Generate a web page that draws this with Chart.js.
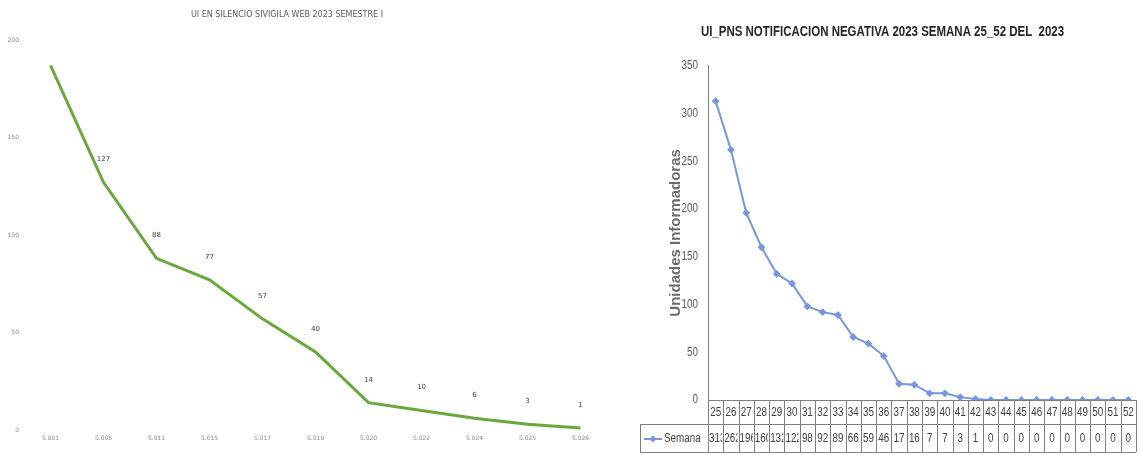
<!DOCTYPE html>
<html>
<head>
<meta charset="utf-8">
<script src="https://cdn.jsdelivr.net/npm/chart.js@4.4.1/dist/chart.umd.min.js"></script>
<style>
  body { margin: 0; background: #fff; }
  #wrapL { position: absolute; left: 0; top: 0; width: 615px; height: 457px; }
  #wrapR { position: absolute; left: 615px; top: 0; width: 527px; height: 457px; }
</style>
</head>
<body>
<div id="wrapL"><canvas id="silencio"></canvas></div>
<div id="wrapR"><canvas id="negativa"></canvas></div>
<script>
// left chart
var silencioLabels = ['S.001', 'S.005', 'S.011', 'S.015', 'S.017', 'S.019', 'S.020', 'S.022', 'S.024', 'S.025', 'S.026'];
var silencioValues = [187, 127, 88, 77, 57, 40, 14, 10, 6, 3, 1];
var silencioTitle = 'UI EN SILENCIO SIVIGILA WEB 2023 SEMESTRE I';

// right chart
var semanas = ['25', '26', '27', '28', '29', '30', '31', '32', '33', '34', '35', '36', '37', '38',
  '39', '40', '41', '42', '43', '44', '45', '46', '47', '48', '49', '50', '51', '52'];
var semanaValues = [313, 262, 196, 160, 132, 122, 98, 92, 89, 66, 59, 46, 17, 16,
  7, 7, 3, 1, 0, 0, 0, 0, 0, 0, 0, 0, 0, 0];
var negativaTitle = 'UI_PNS NOTIFICACION NEGATIVA 2023 SEMANA 25_52 DEL  2023';

var narrow = "'DejaVu Sans', sans-serif";
var sans = "'Liberation Sans', sans-serif";
var SQUEEZE = 0.82;

// no narrow font installed: squeeze text horizontally (skip anything set in Arial)
var narrowTextPlugin = {
  id: 'narrowText',
  beforeInit: function (chart) {
    var ctx = chart.ctx;
    var orig = ctx.fillText;
    ctx.fillText = function (text, x, y, maxWidth) {
      if (ctx.font.indexOf('Arial') >= 0) return orig.call(ctx, text, x, y, maxWidth);
      ctx.save();
      ctx.translate(x, y);
      ctx.scale(SQUEEZE, 1);
      orig.call(ctx, text, 0, 0, maxWidth);
      ctx.restore();
    };
  },
};

// value labels above the green line (first point has none in the original)
var silencioLabelsPlugin = {
  id: 'silencioLabels',
  afterDatasetsDraw: function (chart) {
    var ctx = chart.ctx;
    var meta = chart.getDatasetMeta(0);
    ctx.save();
    ctx.font = '7px ' + narrow;
    ctx.fillStyle = '#404040';
    ctx.textAlign = 'center';
    ctx.textBaseline = 'middle';
    meta.data.forEach(function (pt, i) {
      if (i === 0) return;
      ctx.fillText(String(silencioValues[i]), pt.x, pt.y - 23);
    });
    // title
    ctx.font = '8px ' + narrow;
    ctx.fillStyle = '#595959';
    ctx.fillText(silencioTitle, 287, 15);
    ctx.restore();
  },
};

var silencioChart = new Chart(document.getElementById('silencio'), {
  type: 'line',
  data: {
    labels: silencioLabels,
    datasets: [
      {
        data: silencioValues,
        borderColor: '#6aa83e',
        backgroundColor: '#6aa83e',
        borderWidth: 3,
        pointRadius: 0,
        tension: 0,
      },
    ],
  },
  options: {
    responsive: true,
    maintainAspectRatio: false,
    animation: false,
    layout: { padding: { top: 40, right: 8, bottom: 0, left: 0 } },
    plugins: {
      legend: { display: false },
      title: { display: false },
      tooltip: { enabled: false },
    },
    scales: {
      x: {
        offset: true,
        grid: { display: false, drawTicks: false },
        border: { display: false },
        ticks: { font: { size: 6, family: narrow }, color: '#8a8a8a', padding: 5, maxRotation: 0, autoSkip: false },
        afterFit: function (s) { s.height = 27; },
      },
      y: {
        min: 0,
        max: 200,
        grid: { display: false, drawTicks: false },
        border: { display: false },
        ticks: { stepSize: 50, font: { size: 6, family: narrow }, color: '#8a8a8a', padding: 5 },
        afterFit: function (s) { s.width = 24; },
      },
    },
  },
  plugins: [silencioLabelsPlugin],
});

// data table under the blue chart
var tablePlugin = {
  id: 'dataTable',
  afterDraw: function (chart) {
    var ctx = chart.ctx;
    var x = chart.scales.x;
    var area = chart.chartArea;
    var top = area.bottom;
    var mid = top + 24;
    var bot = top + 52;
    var legendLeft = 25;
    var w = x.getPixelForValue(1) - x.getPixelForValue(0);
    ctx.save();
    ctx.strokeStyle = '#7f7f7f';
    ctx.lineWidth = 1;
    ctx.beginPath();
    ctx.moveTo(area.left, top + 0.5); ctx.lineTo(area.right, top + 0.5);
    ctx.moveTo(legendLeft, mid + 0.5); ctx.lineTo(area.right, mid + 0.5);
    ctx.moveTo(legendLeft, bot + 0.5); ctx.lineTo(area.right, bot + 0.5);
    ctx.moveTo(legendLeft + 0.5, mid); ctx.lineTo(legendLeft + 0.5, bot);
    for (var i = 0; i <= semanas.length; i++) {
      var px = Math.round(x.getPixelForValue(0) - w / 2 + i * w) + 0.5;
      ctx.moveTo(px, top); ctx.lineTo(px, bot);
    }
    ctx.stroke();

    ctx.font = '12px ' + sans;
    ctx.fillStyle = '#404040';
    ctx.textBaseline = 'middle';
    var cy = (mid + bot) / 2 + 1;
    semanaValues.forEach(function (v, i) {
      var cx = x.getPixelForValue(i);
      var txt = String(v);
      var left = cx - w / 2 + 1;
      ctx.save();
      ctx.beginPath();
      ctx.rect(left, mid + 1, w - 2, bot - mid - 2);
      ctx.clip();
      if (ctx.measureText(txt).width * SQUEEZE > w - 2) {
        ctx.textAlign = 'left';
        ctx.fillText(txt, left, cy);
      } else {
        ctx.textAlign = 'center';
        ctx.fillText(txt, cx, cy);
      }
      ctx.restore();
    });

    // legend key
    ctx.strokeStyle = '#7896e0';
    ctx.lineWidth = 2;
    ctx.beginPath();
    ctx.moveTo(legendLeft + 4, cy); ctx.lineTo(legendLeft + 22, cy);
    ctx.stroke();
    ctx.fillStyle = '#7896e0';
    ctx.beginPath();
    ctx.moveTo(legendLeft + 13, cy - 3.5); ctx.lineTo(legendLeft + 16.5, cy);
    ctx.lineTo(legendLeft + 13, cy + 3.5); ctx.lineTo(legendLeft + 9.5, cy);
    ctx.closePath();
    ctx.fill();
    ctx.fillStyle = '#404040';
    ctx.textAlign = 'left';
    ctx.fillText('Semana', legendLeft + 24, cy);
    ctx.restore();
  },
};

var negativaChart = new Chart(document.getElementById('negativa'), {
  type: 'line',
  data: {
    labels: semanas,
    datasets: [
      {
        label: 'Semana',
        data: semanaValues,
        borderColor: '#7896e0',
        backgroundColor: '#7896e0',
        borderWidth: 2,
        pointStyle: 'rectRot',
        pointRadius: 2.5,
        tension: 0,
      },
    ],
  },
  options: {
    responsive: true,
    maintainAspectRatio: false,
    animation: false,
    layout: { padding: { top: 0, right: 2, bottom: 5, left: 10 } },
    plugins: {
      legend: { display: false },
      tooltip: { enabled: false },
      title: {
        display: true,
        text: negativaTitle,
        color: '#262626',
        font: { size: 14, weight: 'bold', family: sans },
        padding: { top: 24, bottom: 25 },
      },
    },
    scales: {
      x: {
        offset: true,
        grid: { display: false, drawTicks: false },
        border: { display: true, color: '#7f7f7f' },
        ticks: { font: { size: 12, family: sans }, color: '#404040', padding: 5, maxRotation: 0, autoSkip: false },
        afterFit: function (s) { s.height = 52; },
      },
      y: {
        min: 0,
        max: 350,
        grid: { display: false, drawTicks: false },
        border: { display: true, color: '#7f7f7f' },
        ticks: { stepSize: 50, font: { size: 12, family: sans }, color: '#595959', padding: 10 },
        title: {
          display: true,
          text: 'Unidades Informadoras',
          color: '#6b6b6b',
          font: { size: 15, weight: 'bold', family: 'Arial, sans-serif' },
          padding: { top: 42, bottom: 0 },
        },
        afterFit: function (s) { s.width = 83; },
      },
    },
  },
  plugins: [narrowTextPlugin, tablePlugin],
});
</script>
</body>
</html>
